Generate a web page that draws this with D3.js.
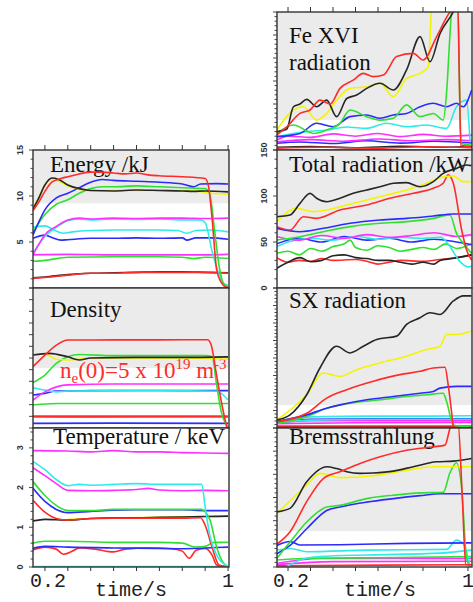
<!DOCTYPE html>
<html><head><meta charset="utf-8">
<script src="https://cdn.jsdelivr.net/npm/d3@7"></script>
<style>body{margin:0;background:#fff;}svg{display:block}</style>
</head><body>
<script>
// ---------- data ----------
const timeTicks = [0.2,0.3,0.4,0.5,0.6,0.7,0.8,0.9,1.0];
const timeTickLabels = [[0.2,"0.2"],[1.0,"1"]];
const xTitle = "time/s";
const palette = {k:"#262626", r:"#ff2b2b", y:"#f4f400", g:"#30e030", b:"#2b2bff", c:"#30eaea", m:"#ff30ff"};

const energySeries = [
 ['k',[[0.148,1.1],[0.2,1.2],[0.3,1.45],[0.4,1.6],[0.5,1.65],[0.6,1.7],[0.7,1.75],[0.8,1.75],[0.9,1.7],[1.0,1.65]]],
 ['r',[[0.148,1.05],[0.2,1.15],[0.3,1.4],[0.4,1.6],[0.5,1.6],[0.6,1.7],[0.7,1.7],[0.8,1.7],[0.9,1.7],[1.0,1.6]]],
 ['g',[[0.148,2.9],[0.2,3.0],[0.3,3.35],[0.5,3.4],[0.7,3.4],[0.8,3.35],[0.85,3.2],[0.9,3.35],[1.0,3.2]]],
 ['m',[[0.148,3.6],[0.3,3.65],[0.5,3.6],[0.7,3.6],[0.9,3.6],[1.0,3.65]]],
 ['b',[[0.148,5.4],[0.2,5.75],[0.23,5.5],[0.27,5.2],[0.3,5.25],[0.4,5.4],[0.5,5.4],[0.6,5.45],[0.7,5.4],[0.8,5.45],[0.82,5.2],[0.86,5.45],[0.92,5.45],[1.0,5.3]]],
 ['c',[[0.148,6.6],[0.2,6.75],[0.24,6.3],[0.28,5.95],[0.32,6.1],[0.4,6.25],[0.5,6.3],[0.6,6.3],[0.7,6.3],[0.78,6.25],[0.82,5.95],[0.86,6.25],[0.92,6.3],[1.0,6.1]]],
 ['c',[[0.148,3.8],[0.2,5.6],[0.25,6.6],[0.3,7.3],[0.35,7.5],[0.4,7.4],[0.5,7.5],[0.6,7.45],[0.7,7.5],[0.8,7.4],[0.88,7.4],[0.9,7.1],[0.93,4.0],[0.96,1.5],[0.98,0.5],[1.0,0.3]]],
 ['m',[[0.148,3.6],[0.17,4.6],[0.2,5.8],[0.25,6.7],[0.3,7.4],[0.35,7.6],[0.4,7.5],[0.5,7.6],[0.6,7.55],[0.7,7.6],[0.8,7.6],[0.9,7.55],[1.0,7.6]]],
 ['g',[[0.148,6.1],[0.2,8.0],[0.25,9.1],[0.3,9.6],[0.35,10.3],[0.4,10.8],[0.45,11.0],[0.5,11.0],[0.6,11.1],[0.7,11.0],[0.8,10.9],[0.9,10.8],[0.92,10.2],[0.94,6.5],[0.96,2.5],[0.98,0.5],[1.0,0.1]]],
 ['b',[[0.148,5.76],[0.17,7.0],[0.2,8.5],[0.25,9.8],[0.3,10.3],[0.35,10.9],[0.4,11.5],[0.45,11.8],[0.5,11.7],[0.6,11.6],[0.7,11.5],[0.8,11.3],[0.85,11.0],[0.88,11.3],[0.95,11.35],[1.0,11.3]]],
 ['y',[[0.148,8.7],[0.17,9.7],[0.2,11.2],[0.23,11.8],[0.26,11.6],[0.3,11.1],[0.35,10.75],[0.4,10.6],[0.5,10.6],[0.6,10.6],[0.7,10.6],[0.8,10.6],[0.88,10.5],[0.9,10.35],[1.0,10.2]]],
 ['k',[[0.148,8.6],[0.17,9.6],[0.2,11.2],[0.23,11.95],[0.26,11.8],[0.3,11.2],[0.35,10.8],[0.4,10.6],[0.5,10.55],[0.6,10.65],[0.7,10.6],[0.8,10.55],[0.85,10.5],[0.9,10.55],[1.0,10.45]]],
 ['r',[[0.148,8.4],[0.17,9.2],[0.2,10.5],[0.23,11.5],[0.27,11.9],[0.3,12.1],[0.35,12.4],[0.4,12.6],[0.45,12.6],[0.5,12.5],[0.55,12.4],[0.6,12.5],[0.65,12.3],[0.7,12.2],[0.8,12.1],[0.9,11.9],[0.915,11.0],[0.93,7.6],[0.95,2.0],[0.97,0.6],[0.99,0.1],[1.0,0.05]]]
];

const densitySeries = [
 ['b',[[0.148,0.4],[0.5,0.42],[1.0,0.4]]],
 ['k',[[0.148,1.0],[0.5,1.0],[1.0,1.0]]],
 ['r',[[0.148,0.97],[0.4,0.95],[0.7,0.97],[1.0,0.96]]],
 ['g',[[0.148,1.97],[0.25,2.1],[0.5,2.1],[0.8,2.1],[1.0,2.1]]],
 ['b',[[0.148,2.83],[0.2,2.97],[0.25,3.17],[0.4,3.2],[0.6,3.22],[0.8,3.2],[1.0,3.2]]],
 ['c',[[0.148,3.45],[0.2,3.25],[0.25,3.1],[0.3,3.17],[0.5,3.2],[0.7,3.2],[0.95,3.15],[1.0,2.4]]],
 ['m',[[0.148,2.4],[0.2,3.1],[0.3,3.7],[0.5,3.77],[0.7,3.77],[0.9,3.77],[1.0,3.77]]],
 ['g',[[0.148,3.9],[0.2,4.54],[0.25,5.54],[0.3,6.1],[0.35,6.3],[0.5,6.2],[0.7,6.2],[0.9,6.2],[0.93,6.1],[0.95,3.7],[0.97,1.4],[1.0,0.1]]],
 ['y',[[0.148,6.3],[0.2,6.35],[0.25,5.9],[0.3,5.83],[0.4,6.0],[0.6,6.0],[0.8,6.0],[1.0,5.9]]],
 ['k',[[0.148,6.25],[0.22,6.4],[0.3,6.1],[0.35,5.83],[0.4,6.0],[0.6,6.05],[0.8,6.05],[1.0,6.1]]],
 ['r',[[0.148,5.25],[0.2,6.25],[0.25,7.1],[0.3,7.54],[0.5,7.55],[0.7,7.55],[0.91,7.57],[0.925,7.2],[0.95,4.5],[0.975,1.8],[0.995,0]]]
];

const temperatureSeries = [
 ['c',[[0.148,0.01],[1.0,0.01]]],
 ['r',[[0.148,0.43],[0.2,0.5],[0.25,0.45],[0.28,0.32],[0.32,0.4],[0.35,0.48],[0.42,0.45],[0.5,0.38],[0.55,0.45],[0.65,0.48],[0.75,0.46],[0.8,0.4],[0.83,0.22],[0.86,0.42],[0.9,0.47],[0.93,0.3],[0.95,0.05],[1.0,0.0]]],
 ['b',[[0.148,0.47],[0.2,0.52],[0.3,0.5],[0.5,0.48],[0.7,0.47],[0.8,0.46],[0.9,0.48],[1.0,0.5]]],
 ['g',[[0.148,0.6],[0.2,0.65],[0.3,0.65],[0.5,0.62],[0.7,0.62],[0.8,0.6],[0.86,0.5],[0.9,0.52],[0.94,0.62],[1.0,0.62]]],
 ['y',[[0.3,1.2],[0.5,1.23],[0.7,1.25],[0.88,1.27],[1.0,1.27]]],
 ['k',[[0.148,1.16],[0.2,1.2],[0.3,1.18],[0.4,1.22],[0.5,1.24],[0.6,1.24],[0.7,1.25],[0.8,1.26],[0.9,1.27],[1.0,1.28]]],
 ['r',[[0.148,1.68],[0.2,1.38],[0.25,1.22],[0.3,1.18],[0.4,1.22],[0.5,1.23],[0.6,1.23],[0.7,1.23],[0.8,1.23],[0.88,1.24],[0.9,1.05],[0.93,0.5],[0.96,0.05],[1.0,0.0]]],
 ['b',[[0.148,1.98],[0.2,1.65],[0.25,1.45],[0.3,1.37],[0.4,1.4],[0.5,1.43],[0.6,1.44],[0.7,1.44],[0.8,1.44],[0.9,1.42],[1.0,1.42]]],
 ['g',[[0.148,2.15],[0.2,1.8],[0.25,1.55],[0.3,1.42],[0.4,1.42],[0.5,1.45],[0.6,1.45],[0.7,1.45],[0.8,1.45],[0.88,1.45],[0.92,1.2],[0.95,0.5],[0.98,0.1],[1.0,0.0]]],
 ['m',[[0.148,2.5],[0.2,2.3],[0.25,2.1],[0.3,1.93],[0.4,1.92],[0.5,1.93],[0.6,1.95],[0.65,1.98],[0.7,1.94],[0.8,1.92],[0.9,1.93],[1.0,1.92]]],
 ['c',[[0.148,2.66],[0.2,2.45],[0.25,2.2],[0.3,2.05],[0.35,2.08],[0.4,2.06],[0.5,2.08],[0.6,2.1],[0.7,2.08],[0.8,2.08],[0.885,2.08],[0.9,1.5],[0.92,0.8],[0.95,0.3],[0.99,0.05],[1.0,0.02]]],
 ['m',[[0.148,2.93],[0.3,2.92],[0.4,2.9],[0.5,2.93],[0.6,2.9],[0.7,2.9],[0.8,2.88],[0.9,2.87],[1.0,2.86]]]
];

const feSeries = [
 ['k',[[0.15,0.12],[0.3,0.15],[0.5,0.1],[0.7,0.16],[0.9,0.12],[1.02,0.15]]],
 ['r',[[0.15,0.08],[0.35,0.12],[0.6,0.08],[0.8,0.14],[1.02,0.1]]],
 ['b',[[0.15,0.3],[0.25,0.35],[0.4,0.28],[0.55,0.4],[0.7,0.3],[0.85,0.38],[1.02,0.3]]],
 ['m',[[0.15,0.35],[0.3,0.45],[0.45,0.38],[0.6,0.48],[0.75,0.4],[0.9,0.45],[1.02,0.4]]],
 ['m',[[0.15,0.43],[0.2,0.6],[0.3,0.55],[0.4,0.7],[0.5,0.6],[0.6,0.72],[0.7,0.58],[0.8,0.68],[0.9,0.6],[1.02,0.65]]],
 ['c',[[0.15,0.58],[0.283,0.8],[0.372,0.87],[0.461,1.0],[0.55,0.94],[0.639,1.16],[0.727,1.01],[0.816,1.09],[0.905,0.94],[0.949,1.88],[0.994,2.17],[1.009,0.4]]],
 ['b',[[0.15,0.58],[0.253,0.72],[0.327,1.16],[0.401,1.01],[0.476,1.45],[0.55,1.52],[0.609,1.38],[0.668,1.52],[0.727,1.59],[0.787,1.88],[0.846,2.03],[0.905,1.88],[0.949,2.03],[0.979,1.88],[1.016,2.6]]],
 ['g',[[0.15,0.72],[0.224,1.09],[0.313,0.72],[0.372,0.87],[0.431,1.16],[0.476,1.74],[0.55,1.45],[0.609,1.3],[0.668,1.38],[0.727,1.96],[0.787,1.45],[0.846,1.59],[0.89,1.3],[0.905,2.5],[0.92,5.0],[0.93,6.3],[0.955,6.3],[0.962,3.0],[0.97,0.3],[1.016,0.2]]],
 ['y',[[0.15,0.87],[0.224,1.74],[0.268,1.88],[0.327,1.3],[0.372,1.59],[0.416,2.17],[0.476,2.68],[0.55,2.75],[0.609,2.9],[0.668,2.32],[0.727,3.11],[0.787,3.33],[0.824,3.62],[0.832,5.0],[0.838,6.3]]],
 ['k',[[0.15,0.8],[0.194,0.9],[0.224,1.88],[0.253,2.0],[0.283,2.2],[0.327,1.88],[0.372,2.17],[0.416,1.45],[0.461,2.24],[0.505,2.39],[0.55,2.68],[0.609,2.9],[0.668,2.61],[0.727,3.48],[0.787,4.93],[0.831,3.84],[0.876,5.07],[0.935,6.0],[0.96,6.5]]],
 ['r',[[0.15,0.65],[0.194,1.0],[0.253,1.59],[0.298,1.74],[0.342,2.17],[0.387,2.0],[0.431,2.68],[0.49,3.04],[0.535,3.33],[0.579,3.19],[0.624,3.26],[0.683,4.06],[0.757,4.2],[0.801,3.91],[0.861,4.93],[0.92,6.0],[0.955,6.3],[0.962,3.0],[0.968,0.2],[1.016,0.15]]]
];

const totalSeries = [
 ['r',[[0.15,33],[0.2,28],[0.25,30],[0.3,29],[0.35,32],[0.4,30],[0.5,31],[0.55,29],[0.6,26],[0.65,28],[0.7,30],[0.8,29],[0.876,31],[0.95,33],[1.016,36]]],
 ['k',[[0.15,21.4],[0.2,28],[0.253,33],[0.3,28.6],[0.35,30],[0.4,35],[0.45,36],[0.5,33],[0.55,32],[0.6,30],[0.65,30],[0.7,28],[0.75,26],[0.8,28],[0.85,26],[0.876,30],[0.93,32],[1.016,36]]],
 ['g',[[0.15,37.7],[0.2,40],[0.25,36],[0.3,43],[0.35,40],[0.4,45],[0.45,48],[0.476,52],[0.5,44],[0.55,41],[0.6,46],[0.65,44],[0.7,40],[0.75,42],[0.8,44],[0.85,42],[0.9,48],[0.95,43],[1.016,48]]],
 ['b',[[0.15,48],[0.25,54],[0.35,50],[0.45,56],[0.55,52],[0.65,54],[0.75,50],[0.85,53],[0.95,50],[1.016,47]]],
 ['c',[[0.15,45],[0.2,50],[0.3,54],[0.4,52],[0.5,56],[0.6,53],[0.7,55],[0.8,54],[0.88,55],[0.92,45],[0.96,30],[1.0,23],[1.016,24]]],
 ['m',[[0.15,55.8],[0.25,52],[0.35,57],[0.45,54],[0.55,58],[0.65,55],[0.75,57],[0.85,60],[0.95,56],[1.016,58]]],
 ['g',[[0.15,52.2],[0.253,55.8],[0.357,61.2],[0.476,66.7],[0.609,70.3],[0.727,72.1],[0.846,75.7],[0.92,79.3],[0.949,59.4],[0.979,48.6],[1.016,37.7]]],
 ['b',[[0.15,64.9],[0.253,61.2],[0.357,64.9],[0.476,70.3],[0.609,73.9],[0.727,75.7],[0.846,78.3],[0.935,80.4],[1.016,80.4]]],
 ['r',[[0.15,66.7],[0.209,63],[0.268,77.5],[0.327,75.7],[0.431,84.8],[0.55,90.2],[0.653,97.5],[0.757,102.9],[0.846,108.4],[0.89,113.8],[0.912,123],[0.935,113.8],[0.972,63],[0.994,41.3],[1.016,30.4]]],
 ['y',[[0.15,72.1],[0.239,86.6],[0.313,83],[0.372,84.8],[0.461,90.2],[0.55,95.6],[0.639,101],[0.727,106.5],[0.816,113.8],[0.89,121],[0.935,121.7],[0.979,115.6],[1.016,115.6]]],
 ['k',[[0.15,77.5],[0.209,79.3],[0.253,92],[0.298,102.9],[0.327,97.5],[0.372,93.8],[0.431,97.5],[0.49,102.9],[0.55,106.5],[0.609,110.1],[0.668,113.8],[0.727,114.5],[0.787,110.1],[0.846,115.6],[0.89,124.6],[0.949,130],[0.994,133.7],[1.016,133]]]
];

const sxSeries = [
 ['k',[[0.15,0.1],[0.6,0.1],[1.016,0.1]]],
 ['r',[[0.15,0.06],[0.6,0.06],[1.016,0.06]]],
 ['m',[[0.15,0.25],[0.5,0.3],[1.016,0.32]]],
 ['b',[[0.15,0.3],[0.3,0.5],[0.6,0.52],[1.016,0.52]]],
 ['m',[[0.15,0.3],[0.3,0.42],[0.6,0.42],[1.016,0.42]]],
 ['c',[[0.15,0.3],[0.3,0.45],[0.6,0.5],[1.016,0.5]]],
 ['c',[[0.15,0.36],[0.25,0.6],[0.35,0.65],[0.6,0.68],[0.8,0.68],[1.016,0.7]]],
 ['g',[[0.15,0.26],[0.283,0.65],[0.372,1.13],[0.476,1.42],[0.609,1.61],[0.727,1.8],[0.816,1.9],[0.89,1.99],[0.905,1.52],[0.935,0.17],[1.016,0.05]]],
 ['b',[[0.15,0.36],[0.283,0.75],[0.372,1.13],[0.431,1.32],[0.55,1.61],[0.668,1.8],[0.787,1.99],[0.846,2.09],[0.876,2.28],[0.949,2.38],[1.016,2.38]]],
 ['r',[[0.15,0.36],[0.283,0.84],[0.372,1.71],[0.461,2.19],[0.579,2.67],[0.698,3.05],[0.787,3.24],[0.846,3.43],[0.898,3.47],[0.912,2.47],[0.935,0.0]]],
 ['y',[[0.15,0.46],[0.283,1.9],[0.357,3.14],[0.431,2.95],[0.505,3.33],[0.609,3.72],[0.727,4.1],[0.816,4.48],[0.876,4.67],[0.905,5.34],[0.949,5.34],[1.016,5.54]]],
 ['k',[[0.15,0.46],[0.209,0.75],[0.283,1.9],[0.342,3.43],[0.416,4.67],[0.476,4.29],[0.535,4.67],[0.594,5.06],[0.683,5.25],[0.727,5.92],[0.787,6.3],[0.831,6.59],[0.876,6.49],[0.935,7.26],[0.979,7.55],[1.016,7.55]]]
];

const bremsSeries = [
 ['r',[[0.15,0.05],[0.6,0.08],[1.016,0.1]]],
 ['m',[[0.15,0.1],[0.4,0.23],[1.016,0.25]]],
 ['m',[[0.15,0.16],[0.342,0.37],[0.6,0.37],[1.016,0.37]]],
 ['g',[[0.15,0.3],[0.3,0.38],[0.6,0.4],[1.016,0.45]]],
 ['c',[[0.194,0.01],[0.253,0.3],[0.342,0.45],[0.55,0.52],[0.876,0.6],[1.016,0.73]]],
 ['c',[[0.15,0.73],[0.209,0.8],[0.283,0.66],[0.55,0.73],[0.905,0.76],[0.949,1.16],[0.979,1.0],[1.009,0.05]]],
 ['b',[[0.15,0.93],[0.209,1.1],[0.253,0.95],[0.431,0.96],[0.727,1.02],[1.016,1.04]]],
 ['b',[[0.15,0.57],[0.209,0.93],[0.283,1.65],[0.372,2.44],[0.431,2.59],[0.55,2.8],[0.668,2.95],[0.787,3.08],[0.876,3.16],[1.016,3.16]]],
 ['g',[[0.15,0.37],[0.209,1.08],[0.283,1.94],[0.372,2.59],[0.431,2.66],[0.55,2.95],[0.668,3.1],[0.787,3.2],[0.89,3.22],[0.92,4.07],[0.949,4.5],[0.972,3.4],[0.994,0.37],[1.01,0.0]]],
 ['y',[[0.15,2.31],[0.283,3.53],[0.342,4.04],[0.431,3.86],[0.579,3.94],[0.727,4.18],[0.846,4.33],[0.905,4.33],[1.016,4.33]]],
 ['k',[[0.15,2.38],[0.209,2.53],[0.283,3.68],[0.372,4.33],[0.416,4.25],[0.461,4.11],[0.52,4.04],[0.579,4.06],[0.668,4.14],[0.757,4.33],[0.861,4.54],[0.935,4.57],[1.016,4.68]]],
 ['r',[[0.15,0.98],[0.209,1.52],[0.283,2.82],[0.357,3.82],[0.431,4.11],[0.52,4.47],[0.609,4.76],[0.727,5.04],[0.846,5.19],[0.898,5.26],[0.92,5.98],[0.935,6.3],[0.955,6.3],[0.975,3.0],[0.99,0.1],[1.016,0.1]]]
];

// ---------- layout ----------
const W = 473, H = 602;
const columns = [
  {domain:[0.148,1.004], range:[33,229], labelY:587, titleX:131},
  {domain:[0.151,1.018], range:[277,472], labelY:587, titleX:380}
];
const panels = [
  {col:0, data:energySeries, y0:288, y1:150, domain:[0,15], shade:9.2, major:5, minor:1, labels:[5,10,15], title:["Energy /kJ"], tx:50, ty:[172]},
  {col:0, data:densitySeries, y0:428, y1:288, domain:[0,12], shade:5.15, major:1, minor:1, labels:[], title:["Density"], tx:50, ty:[317]},
  {col:0, data:temperatureSeries, y0:567, y1:428, domain:[0,3.5], shade:null, major:1, minor:0.2, labels:[0,1,2,3], title:["Temperature / keV"], tx:53, ty:[444]},
  {col:1, data:feSeries, y0:150, y1:12, domain:[0,6], shade:1.3, major:1, minor:0.2, labels:[], title:["Fe XVI","radiation"], tx:289, ty:[43,70]},
  {col:1, data:totalSeries, y0:288, y1:150, domain:[0,150], shade:55.4, major:50, minor:10, labels:[0,50,100,150], title:["Total radiation /kW"], tx:289, ty:[172]},
  {col:1, data:sxSeries, y0:428, y1:288, domain:[0,8], shade:1.31, major:1, minor:0.2, labels:[], title:["SX radiation"], tx:289, ty:[308]},
  {col:1, data:bremsSeries, y0:567, y1:428, domain:[0,6], shade:1.55, major:1, minor:0.2, labels:[], title:["Bremsstrahlung"], tx:289, ty:[444]}
];

const svg = d3.select("body").append("svg").attr("width",W).attr("height",H);
const xs = columns.map(c => d3.scaleLinear().domain(c.domain).range(c.range));

panels.forEach((p,i) => {
  const x = xs[p.col];
  const [xl,xr] = columns[p.col].range;
  const y = d3.scaleLinear().domain(p.domain).range([p.y0,p.y1]);
  const g = svg.append("g");
  g.append("rect").attr("x",xl).attr("y",p.y1).attr("width",xr-xl).attr("height",p.y0-p.y1).attr("fill","#fff");
  if (p.shade!=null) {
    g.append("rect").attr("x",xl).attr("y",p.y1).attr("width",xr-xl).attr("height",y(p.shade)-p.y1).attr("fill","#ebebeb");
  }
  const tt = g.append("text").attr("font-family","'Liberation Serif','Times New Roman',serif").attr("font-size",23).attr("fill","#111");
  p.title.forEach((s,k)=> tt.append("tspan").attr("x",p.tx).attr("y",p.ty[k]).text(s));
  if (i===1) {
    const a = g.append("text").attr("x",60).attr("y",378).attr("font-family","'Liberation Serif',serif").attr("font-size",23).attr("fill","#ff2b2b");
    a.append("tspan").text("n");
    a.append("tspan").attr("dy",5).attr("font-size",15).text("e");
    a.append("tspan").attr("dy",-5).text("(0)=5 x 10");
    a.append("tspan").attr("dy",-9).attr("font-size",15).text("19");
    a.append("tspan").attr("dy",9).text(" m");
    a.append("tspan").attr("dy",-9).attr("font-size",15).text("-3");
  }
  const cid = "clip"+i;
  svg.append("clipPath").attr("id",cid).append("rect").attr("x",xl).attr("y",p.y1).attr("width",xr-xl).attr("height",p.y0-p.y1);
  const line = d3.line().x(d=>x(d[0])).y(d=>y(d[1])).curve(d3.curveMonotoneX);
  const lg = g.append("g").attr("clip-path",`url(#${cid})`);
  p.data.forEach(([c,pts]) => {
    lg.append("path").attr("d",line(pts)).attr("fill","none").attr("stroke",palette[c]).attr("stroke-width",1.6).attr("stroke-linejoin","round");
  });
  g.append("rect").attr("x",xl).attr("y",p.y1).attr("width",xr-xl).attr("height",p.y0-p.y1).attr("fill","none").attr("stroke","#333").attr("stroke-width",1.4);
  const minorT = d3.range(p.domain[0], p.domain[1]+1e-9, p.minor);
  g.selectAll(null).data(minorT).join("line")
    .attr("x1",xl).attr("x2",d=> xl - (Math.abs(d/p.major - Math.round(d/p.major))<1e-6 ? 4 : 2.5))
    .attr("y1",d=>y(d)).attr("y2",d=>y(d)).attr("stroke","#333").attr("stroke-width",0.9);
  g.selectAll(null).data(p.labels).join("text")
    .attr("transform",d=>`translate(${xl-10},${y(d)}) rotate(-90)`)
    .attr("text-anchor","middle").attr("font-family","'Liberation Sans',Arial,sans-serif").attr("font-size",9).attr("font-weight","bold").attr("fill","#333")
    .text(d=>d);
});

columns.forEach((c,ci) => {
  const x = xs[ci];
  const colPanels = panels.filter(p=>p.col===ci);
  const top = d3.min(colPanels,p=>p.y1), bot = d3.max(colPanels,p=>p.y0);
  svg.selectAll(null).data(timeTicks).join("line")
    .attr("x1",d=>x(d)).attr("x2",d=>x(d)).attr("y1",top).attr("y2",top-5).attr("stroke","#333").attr("stroke-width",1);
  svg.selectAll(null).data(timeTicks).join("line")
    .attr("x1",d=>x(d)).attr("x2",d=>x(d)).attr("y1",bot).attr("y2",bot+4).attr("stroke","#333").attr("stroke-width",1);
  svg.selectAll(null).data(timeTickLabels).join("text")
    .attr("x",d=>x(d[0]) + (d[0]<0.5?3:0)).attr("y",c.labelY).attr("text-anchor","middle")
    .attr("font-family","'Liberation Mono','Courier New',monospace").attr("font-size",20).attr("fill","#222")
    .text(d=>d[1]);
  svg.append("text").attr("x",c.titleX).attr("y",596).attr("text-anchor","middle")
    .attr("font-family","'Liberation Mono','Courier New',monospace").attr("font-size",20).attr("fill","#222").text(xTitle);
});
</script>
</body></html>
